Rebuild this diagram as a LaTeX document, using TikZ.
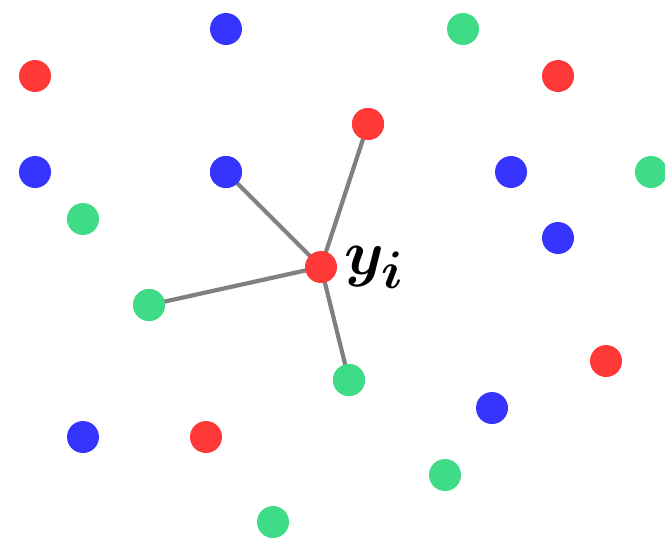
\documentclass[tikz,border=0pt]{standalone}
\usepackage{amsmath}
\usepackage{bm}

\definecolor{ptred}{HTML}{FF3838}
\definecolor{ptblue}{HTML}{3535FF}
\definecolor{ptgreen}{HTML}{3FDC88}

\begin{document}
\begin{tikzpicture}[x=0.02cm, y=-0.02cm,
	dot/.style={circle, inner sep=0pt, minimum size=0.64cm},
	link/.style={draw=gray, line width=2.4pt}]
	\useasboundingbox (0,0) rectangle (665,539);
	% blue points
	\foreach \n/\x/\y in {b1/226/29, b2/35/172, b3/226/172, b4/511/172, b5/558/238, b6/83/437, b7/492/408}
		{\node[dot, fill=ptblue] (\n) at (\x,\y) {};}
	% red points
	\foreach \n/\x/\y in {r1/35/76, r2/558/76, r3/368/124, r4/606/361, r5/206/437}
		{\node[dot, fill=ptred] (\n) at (\x,\y) {};}
	% green points
	\foreach \n/\x/\y in {g1/463/29, g2/83/219, g3/651/172, g4/149/305, g5/349/380, g6/445/475, g7/273/522}
		{\node[dot, fill=ptgreen] (\n) at (\x,\y) {};}
	% query point and its neighbours
	\node[dot] (yi) at (321,267) {};
	\draw[link] (yi.center) -- (b3.center);
	\draw[link] (yi.center) -- (r3.center);
	\draw[link] (yi.center) -- (g4.center);
	\draw[link] (yi.center) -- (g5.center);
	\node[dot, fill=ptred] at (yi) {};
	\node[dot, fill=ptblue] at (b3) {};
	\node[dot, fill=ptred] at (r3) {};
	\node[dot, fill=ptgreen] at (g4) {};
	\node[dot, fill=ptgreen] at (g5) {};
	\begin{scope}[shift={(344,274)}]
		\node[anchor=base west, scale=1.45, font=\fontsize{24.88}{30}\selectfont, inner sep=0pt] (lbl) at (0,0) {$\bm{y_i}$};
	\end{scope}
\end{tikzpicture}
\end{document}
